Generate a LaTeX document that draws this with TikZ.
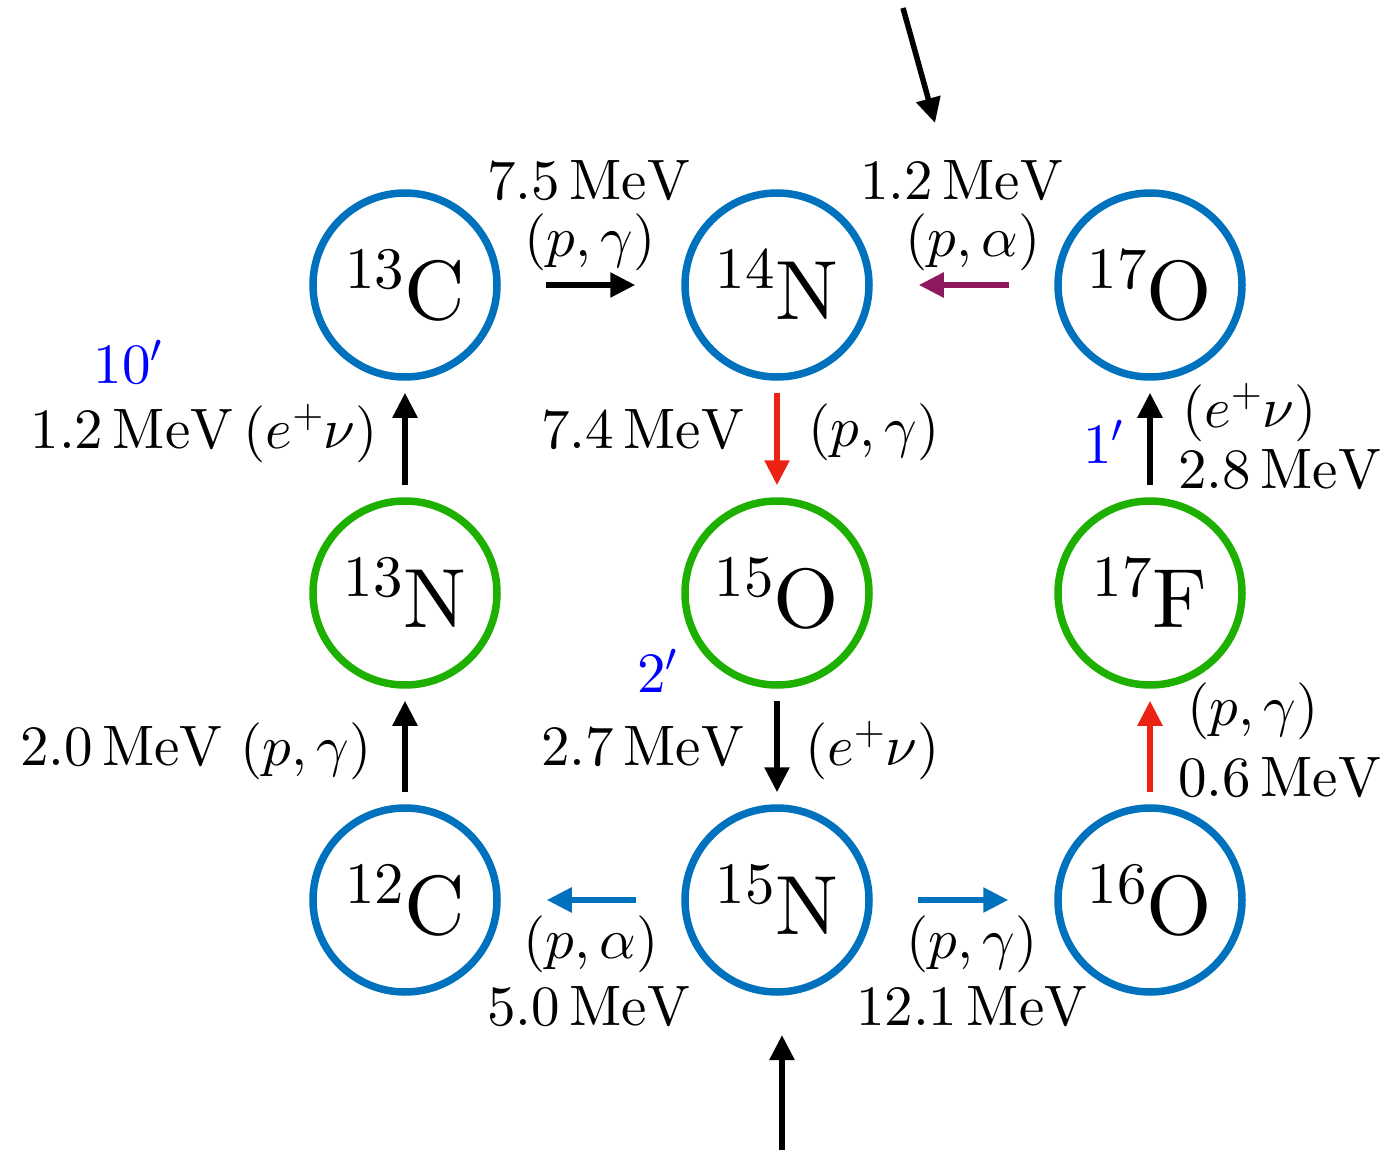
\RequirePackage{fix-cm}
\documentclass[tikz,border=0pt]{standalone}
\usetikzlibrary{arrows.meta}
\DeclareFontShape{OT1}{cmr}{m}{n}{<->cmr10}{}
\DeclareFontShape{OML}{cmm}{m}{it}{<->cmmi10}{}
\DeclareFontShape{OMS}{cmsy}{m}{n}{<->cmsy10}{}
\definecolor{nblue}{RGB}{0,114,189}
\definecolor{ngreen}{RGB}{30,176,0}
\definecolor{nred}{RGB}{236,34,20}
\definecolor{npurple}{RGB}{142,25,95}
\definecolor{tblue}{RGB}{0,0,255}
\begin{document}
\begin{tikzpicture}[x=1pt,y=-1pt,
  nuc/.style={circle,draw=#1,line width=7.5pt,minimum size=184pt,inner sep=0pt,
    font=\fontsize{84}{94}\selectfont},
  lab/.style={inner sep=0pt,font=\fontsize{57}{62}\selectfont},
  arr/.style={line width=5.5pt,draw=#1,-{Triangle[length=25pt,width=24pt]}},
  harr/.style={arr=#1,shorten <=45pt,shorten >=46pt},
  varr/.style={arr=#1,shorten <=12pt,shorten >=12pt}]
\useasboundingbox (0,0) rectangle (1392,1150);
% nuclei
\node[nuc=nblue]  (C13) at (405,285) {$^{13}\mathrm{C}$};
\node[nuc=nblue]  (N14) at (777,285) {$^{14}\mathrm{N}$};
\node[nuc=nblue]  (O17) at (1150,285) {$^{17}\mathrm{O}$};
\node[nuc=ngreen] (N13) at (405,593) {$^{13}\mathrm{N}$};
\node[nuc=ngreen] (O15) at (777,593) {$^{15}\mathrm{O}$};
\node[nuc=ngreen] (F17) at (1150,593) {$^{17}\mathrm{F}$};
\node[nuc=nblue]  (C12) at (405,900) {$^{12}\mathrm{C}$};
\node[nuc=nblue]  (N15) at (777,900) {$^{15}\mathrm{N}$};
\node[nuc=nblue]  (O16) at (1150,900) {$^{16}\mathrm{O}$};
% reactions
\draw[varr=black]   (C12) -- (N13);
\draw[varr=black]   (N13) -- (C13);
\draw[harr=black]   (C13) -- (N14);
\draw[varr=nred]    (N14) -- (O15);
\draw[varr=black]   (O15) -- (N15);
\draw[harr=nblue]   (N15) -- (C12);
\draw[harr=nblue]   (N15) -- (O16);
\draw[varr=nred]    (O16) -- (F17);
\draw[varr=black]   (F17) -- (O17);
\draw[harr=npurple] (O17) -- (N14);
% incoming arrows
\coordinate (intop) at (903,8);
\coordinate (intopend) at (935,123);
\draw[arr=black] (intop) -- (intopend);
\coordinate (inbot) at (782,1150);
\coordinate (inbotend) at (782,1035);
\draw[arr=black] (inbot) -- (inbotend);
% labels
\node[lab,anchor=base] (l1) at (589,200) {$7.5\,\mathrm{MeV}$};
\node[lab,anchor=base] (l2) at (590,257) {$(p,\gamma)$};
\node[lab,anchor=base] (l3) at (962,200) {$1.2\,\mathrm{MeV}$};
\node[lab,anchor=base] (l4) at (973,257) {$(p,\alpha)$};
\node[lab,anchor=base,text=tblue] (l5) at (128,383) {$10'$};
\node[lab,anchor=base east] (l6) at (378,448) {$1.2\,\mathrm{MeV}\,(e^+\nu)$};
\node[lab,anchor=base east] (l7) at (745,448) {$7.4\,\mathrm{MeV}$};
\node[lab,anchor=base west] (l8) at (808,446) {$(p,\gamma)$};
\node[lab,anchor=base west] (l9) at (1182,427) {$(e^+\nu)$};
\node[lab,anchor=base west] (l10) at (1178,488) {$2.8\,\mathrm{MeV}$};
\node[lab,anchor=base,text=tblue] (l11) at (1103,463) {$1'$};
\node[lab,anchor=base east] (l12) at (372,765) {$2.0\,\mathrm{MeV}\ (p,\gamma)$};
\node[lab,anchor=base,text=tblue] (l13) at (657,692) {$2'$};
\node[lab,anchor=base east] (l14) at (745,765) {$2.7\,\mathrm{MeV}$};
\node[lab,anchor=base west] (l15) at (805,765) {$(e^+\nu)$};
\node[lab,anchor=base west] (l16) at (1187,725) {$(p,\gamma)$};
\node[lab,anchor=base west] (l17) at (1178,796) {$0.6\,\mathrm{MeV}$};
\node[lab,anchor=base] (l18) at (591,958) {$(p,\alpha)$};
\node[lab,anchor=base] (l19) at (589,1025) {$5.0\,\mathrm{MeV}$};
\node[lab,anchor=base] (l20) at (972,958) {$(p,\gamma)$};
\node[lab,anchor=base] (l21) at (972,1025) {$12.1\,\mathrm{MeV}$};
\end{tikzpicture}
\end{document}
